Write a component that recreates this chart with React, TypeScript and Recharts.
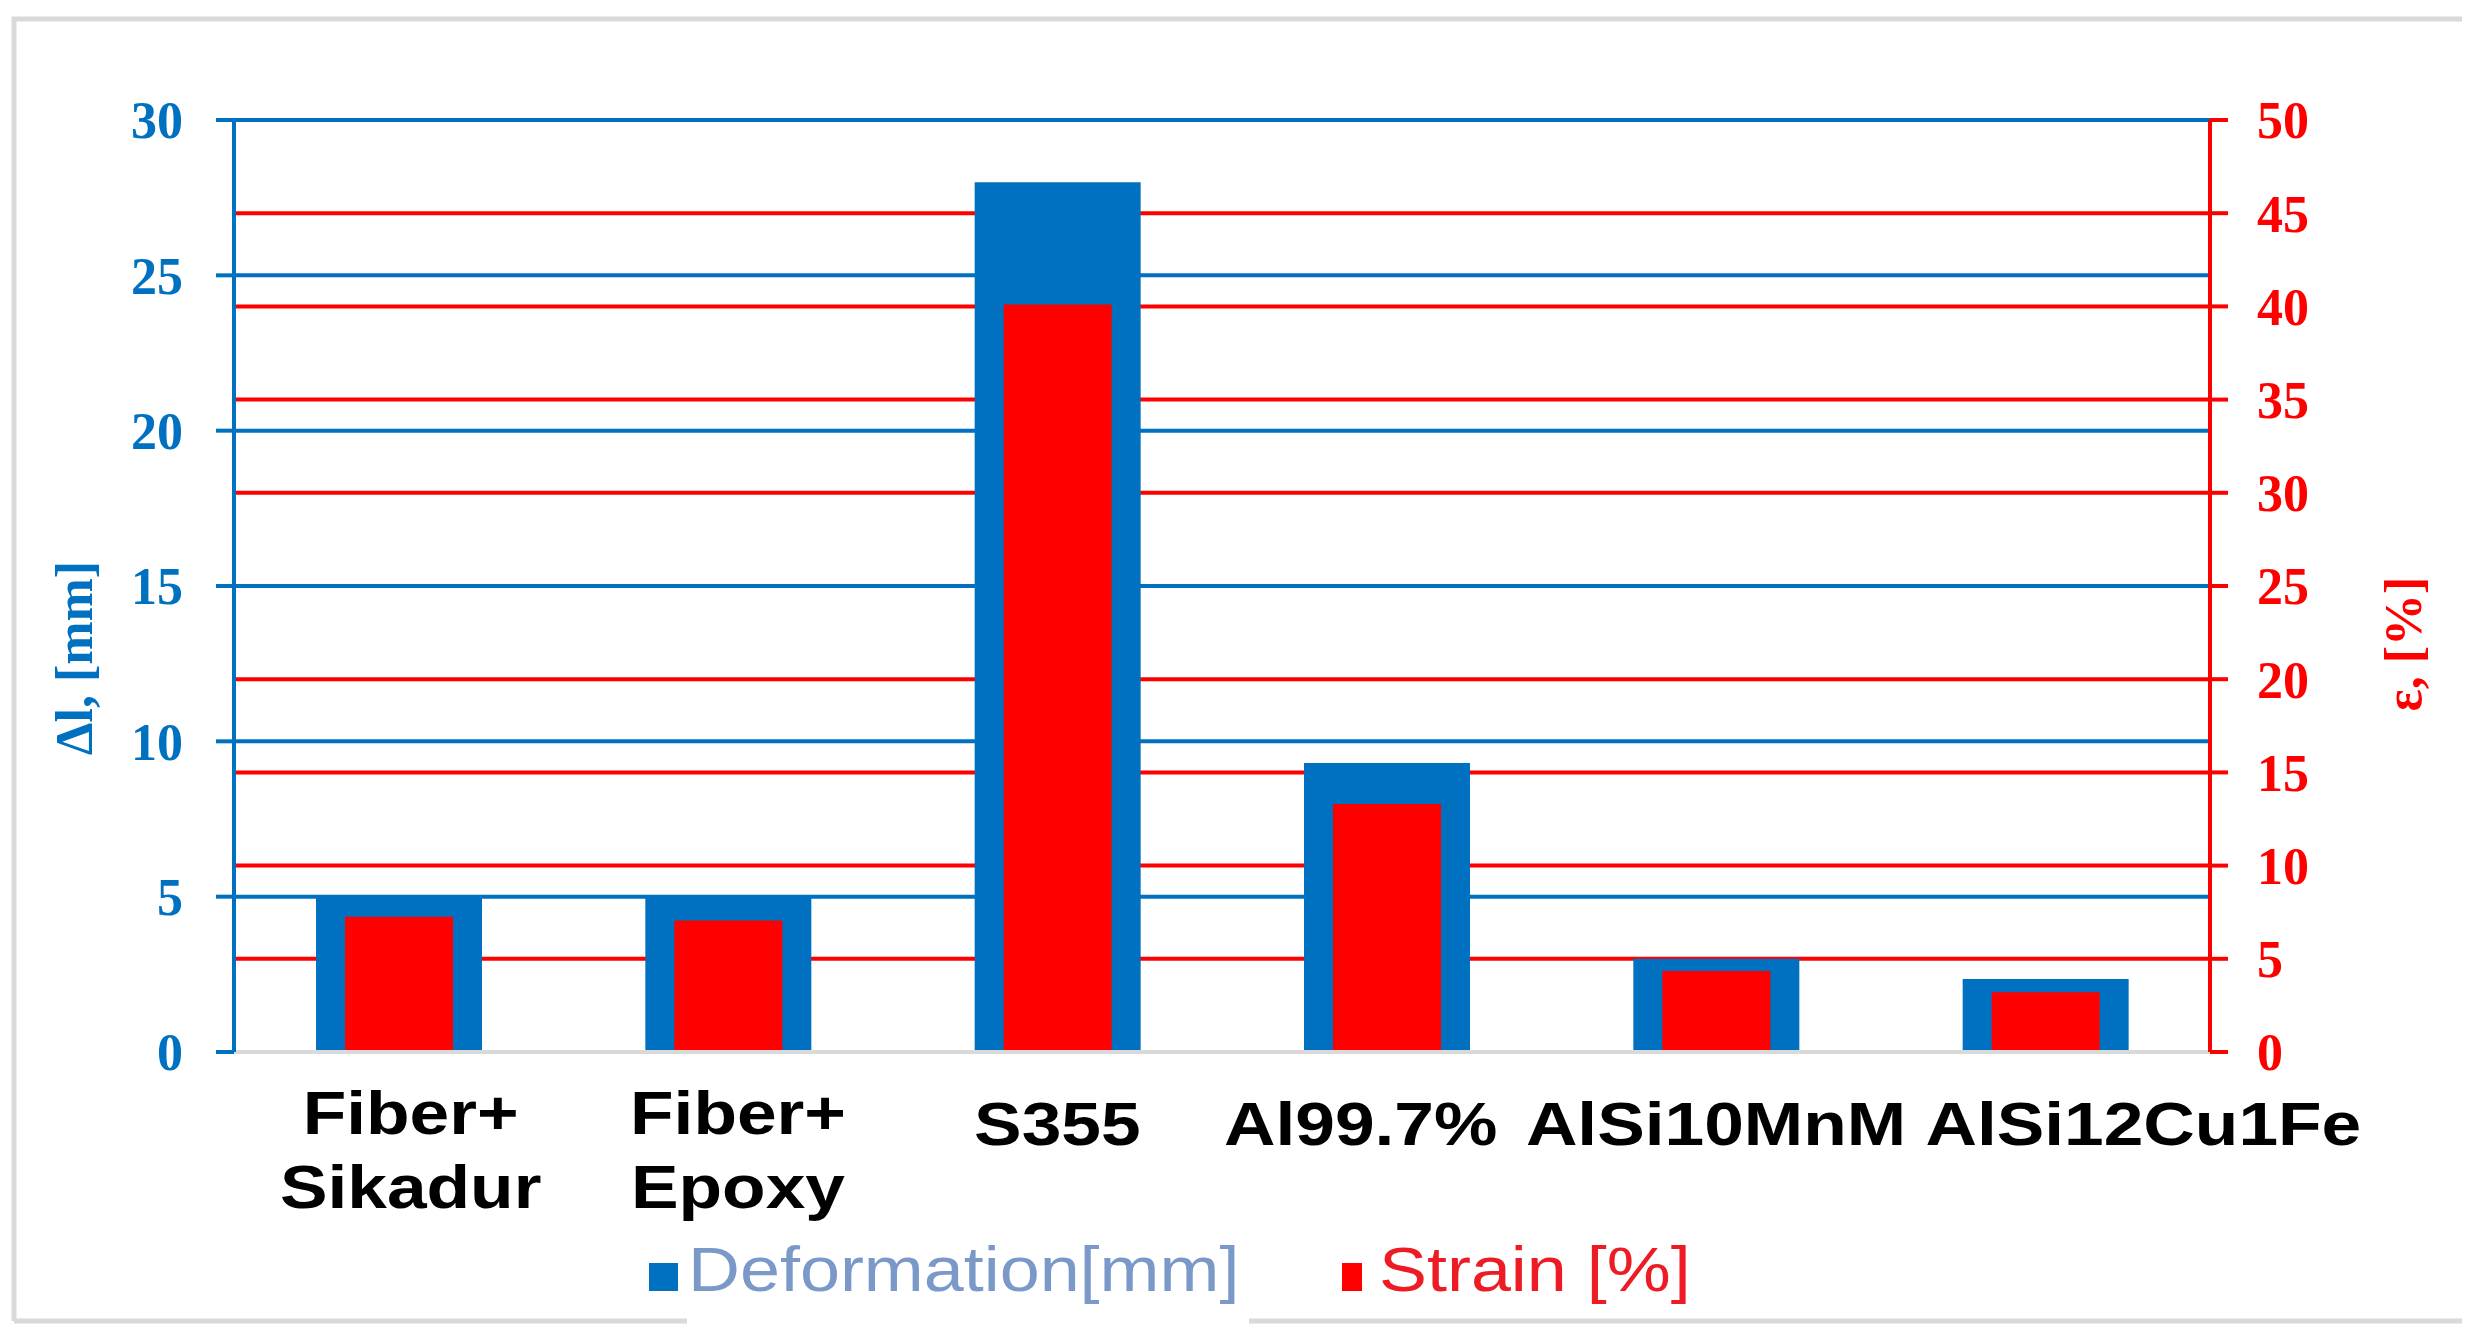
import { BarChart, Bar, XAxis, YAxis, CartesianGrid } from 'recharts'

const categories = ['Fiber+\nSikadur', 'Fiber+\nEpoxy', 'S355', 'Al99.7%', 'AlSi10MnM', 'AlSi12Cu1Fe']
const deformation = [5.0, 5.0, 28.0, 9.3, 3.0, 2.35]
const strain = [7.25, 7.05, 40.1, 13.3, 4.35, 3.2]
const leftTicks = [0, 5, 10, 15, 20, 25, 30]
const rightTicks = [0, 5, 10, 15, 20, 25, 30, 35, 40, 45, 50]

const BLUE = '#0070C0'
const RED = '#FF0000'
const GRAY = '#D9D9D9'
const SANS = '"Liberation Sans", Arial, sans-serif'
const SERIF = '"Liberation Serif", "Times New Roman", serif'

const data = categories.map((name, i) => ({ name, deformation: deformation[i], strain: strain[i] }))

// Excel stretched the sans text a bit wider than the font itself
const STRETCH = 1.15
// Excel nudges some labels sideways so long ones don't collide
const LABEL_NUDGE = [12, 10, 0, -26, 0, 98]

function CategoryTick({ x, y, payload, index }: any) {
  const lines = String(payload.value).split('\n')
  const shift = LABEL_NUDGE[index] ?? 0
  return (
    <g transform={`translate(${x + shift},${y}) scale(${STRETCH},1)`}>
      <text textAnchor="middle" fontFamily={SANS} fontWeight="bold" fontSize={62} fill="#000">
        {lines.map((l, i) => (
          <tspan key={i} x={0} y={lines.length > 1 ? 82 + i * 74 : 93}>{l}</tspan>
        ))}
      </text>
    </g>
  )
}

function AxisTitle({ viewBox, text, color, dx, dy }: any) {
  const cx = viewBox.x + dx
  const cy = viewBox.y + viewBox.height / 2 + dy
  return (
    <text transform={`translate(${cx},${cy}) rotate(-90)`} textAnchor="middle" dominantBaseline="central"
      fontFamily={SERIF} fontWeight="bold" fontSize={52} fill={color}>{text}</text>
  )
}

export default function App() {
  return (
    <div style={{ position: 'absolute', left: 0, top: 0, width: 2471, height: 1344, background: '#fff' }}>
      <BarChart width={2471} height={1344} data={data} margin={{ top: 120, right: 0, bottom: 0, left: 0 }}>
        <CartesianGrid xAxisId="a" yAxisId="right" vertical={false} stroke={RED} strokeWidth={4} horizontalValues={rightTicks} />
        <CartesianGrid xAxisId="a" yAxisId="left" vertical={false} stroke={BLUE} strokeWidth={4} horizontalValues={leftTicks} />
        <XAxis xAxisId="a" dataKey="name" height={292} interval={0} tickSize={0} tickMargin={0}
          axisLine={{ stroke: GRAY, strokeWidth: 4 }} tickLine={false} tick={<CategoryTick />} />
        <XAxis xAxisId="b" dataKey="name" hide height={0} />
        <YAxis yAxisId="left" orientation="left" width={234} domain={[0, 30]} ticks={leftTicks} interval={0}
          axisLine={{ stroke: BLUE, strokeWidth: 4 }} tickLine={{ stroke: BLUE, strokeWidth: 4 }} tickSize={18} tickMargin={33}
          tick={{ fill: BLUE, fontSize: 52, fontFamily: SERIF, fontWeight: 'bold' }}
          label={{ content: (p: any) => <AxisTitle {...p} text="Δl, [mm]" color={BLUE} dx={74} dy={72} /> }} />
        <YAxis yAxisId="right" orientation="right" width={261} domain={[0, 50]} ticks={rightTicks} interval={0}
          axisLine={{ stroke: RED, strokeWidth: 4 }} tickLine={{ stroke: RED, strokeWidth: 4 }} tickSize={18} tickMargin={29}
          tick={{ fill: RED, fontSize: 52, fontFamily: SERIF, fontWeight: 'bold' }}
          label={{ content: (p: any) => <AxisTitle {...p} text="ε, [%]" color={RED} dx={193} dy={58} /> }} />
        <Bar xAxisId="a" yAxisId="left" dataKey="deformation" fill={BLUE} barSize={166} isAnimationActive={false} />
        <Bar xAxisId="b" yAxisId="right" dataKey="strain" fill={RED} barSize={108} isAnimationActive={false} />
      </BarChart>
      <svg width={2471} height={1344} style={{ position: 'absolute', left: 0, top: 0, pointerEvents: 'none' }}>
        {/* chart frame, bottom edge broken behind the legend */}
        <path d="M14 1321 V19 H2462 M14 1321 H687 M1249 1321 H2462" stroke={GRAY} strokeWidth={5} fill="none" />
        <rect x={649} y={1263} width={29} height={28} fill={BLUE} />
        <text transform={`translate(688,1291) scale(1.16,1)`} fontFamily={SANS} fontSize={62} fill="#7A99C9">Deformation[mm]</text>
        <rect x={1342} y={1263} width={20} height={28} fill={RED} />
        <text transform={`translate(1379,1291) scale(1.16,1)`} fontFamily={SANS} fontSize={62} fill="#ED1C24">Strain [%]</text>
      </svg>
    </div>
  )
}
